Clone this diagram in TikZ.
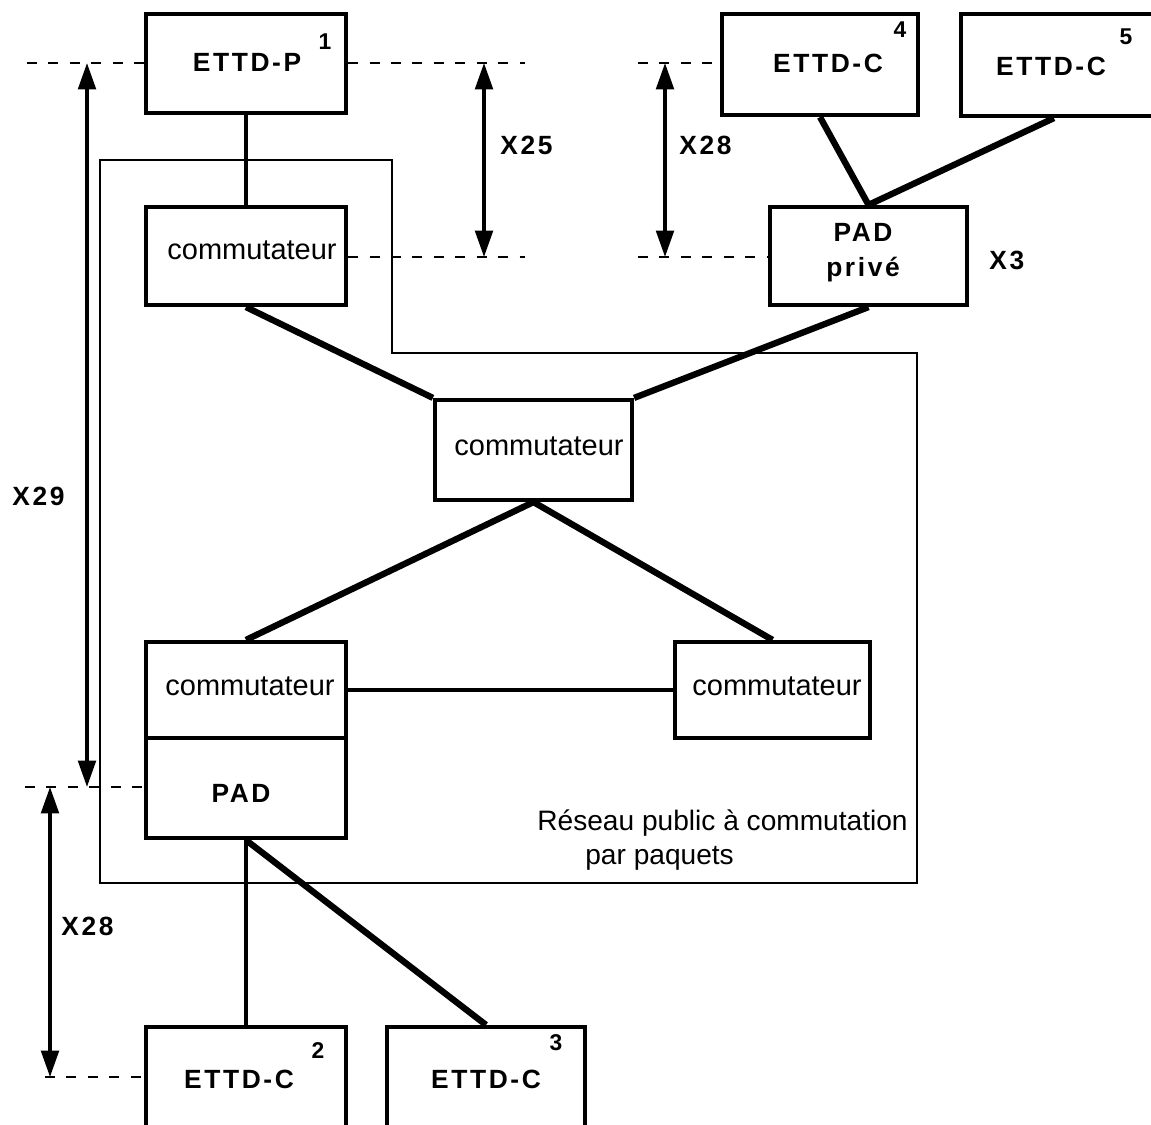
\documentclass[tikz,border=0pt]{standalone}
\usepackage{fontspec}
\setmainfont{Liberation Sans}
\newfontfamily\lblfont[LetterSpace=10]{Liberation Sans Bold}
\usetikzlibrary{arrows.meta,calc}
\begin{document}
\begin{tikzpicture}[x=0.02cm,y=-0.02cm,
  box/.style={draw, line width=2.4pt, rectangle, inner sep=0pt},
  thicklink/.style={line width=3.6pt},
  medlink/.style={line width=2.3pt},
  netline/.style={line width=1.1pt},
  dimline/.style={dashed, line width=1.3pt, dash pattern=on 5.7pt off 6.5pt},
  dimarrow/.style={line width=2pt, {Triangle[length=15pt,width=10pt]}-{Triangle[length=15pt,width=10pt]}},
  lbl/.style={font=\lblfont\fontsize{15}{18}\selectfont, inner sep=0pt, anchor=base},
  sup/.style={font=\lblfont\fontsize{13}{15}\selectfont, inner sep=0pt, anchor=base},
  cmt/.style={font=\fontsize{16.5}{20}\selectfont, inner sep=0pt, anchor=base},
  note/.style={font=\fontsize{16}{19}\selectfont, inner sep=0pt, anchor=base west}]
\useasboundingbox (0,0) rectangle (1151,1124);
\clip (0,0) rectangle (1151,1124);

% network boundary
\draw[netline] (100,160) -- (392,160) -- (392,353) -- (917,353) -- (917,883) -- (100,883) -- cycle;

% boxes
\node[box, minimum width=4cm, minimum height=1.98cm] (p1) at (246,63.5) {};
\node[box, minimum width=4cm, minimum height=1.96cm] (c1) at (246,256) {};
\node[box, minimum width=3.92cm, minimum height=2.02cm] (c4) at (820,64.5) {};
\node[box, minimum width=4.2cm, minimum height=2.04cm] (c5) at (1066,65) {};
\node[box, minimum width=3.94cm, minimum height=1.96cm] (pp) at (868.5,256) {};
\node[box, minimum width=3.94cm, minimum height=2cm] (cc) at (533.5,450) {};
\node[box, minimum width=4cm, minimum height=1.92cm] (cl) at (246,690) {};
\node[box, minimum width=4cm, minimum height=2cm] (pad) at (246,788) {};
\node[box, minimum width=3.9cm, minimum height=1.92cm] (cr) at (772.5,690) {};
\node[box, minimum width=4cm, minimum height=2.4cm] (e2) at (246,1087) {};
\node[box, minimum width=3.96cm, minimum height=2.4cm] (e3) at (486,1087) {};

% texts
\node[lbl] (tp1) at (247,72) {ETTD-P};
\node[sup] (sp1) at (325,50) {1};
\node[cmt] (tc1) at (252,260) {commutateur};
\node[lbl] (tc4) at (828,73) {ETTD-C};
\node[sup] (s4) at (900,38) {4};
\node[lbl] (tc5) at (1051,76) {ETTD-C};
\node[sup] (s5) at (1126,45) {5};
\node[lbl] (tpp1) at (863,242) {PAD};
\node[lbl] (tpp2) at (863,277) {privé};
\node[lbl, anchor=base west] (x3) at (989,270) {X3};
\node[lbl, anchor=base west] (x25) at (500,155) {X25};
\node[lbl, anchor=base west] (x28a) at (679,155) {X28};
\node[lbl, anchor=base west] (x29) at (12,505) {X29};
\node[lbl, anchor=base west] (x28b) at (61,935) {X28};
\node[cmt] (tcc) at (539,455) {commutateur};
\node[cmt] (tcl) at (250,695) {commutateur};
\node[lbl] (tpad) at (241,802) {PAD};
\node[cmt] (tcr) at (777,695) {commutateur};
\node[lbl] (te2) at (239,1088) {ETTD-C};
\node[sup] (s2) at (318,1058) {2};
\node[lbl] (te3) at (486,1088) {ETTD-C};
\node[sup] (s3) at (556,1050) {3};
\node[note] (n1) at (537,830) {Réseau public à commutation};
\node[note] (n2) at (585,864) {par paquets};

% dashed reference lines
\coordinate (dl1) at (27,63);
\coordinate (dr1) at (525,63);
\coordinate (dr2) at (525,257);
\coordinate (dl3) at (638,63);
\coordinate (dl4) at (638,257);
\coordinate (dl5) at (25,787);
\coordinate (dl6) at (45,1077);
\draw[dimline] (dl1) -- (dl1 -| p1.west);
\draw[dimline] (dr1 -| p1.east) -- (dr1);
\draw[dimline] (dr2 -| c1.east) -- (dr2);
\draw[dimline] (dl3) -- (dl3 -| c4.west);
\draw[dimline] (dl4) -- (dl4 -| pp.west);
\draw[dimline] (dl5) -- (dl5 -| pad.west);
\draw[dimline] (dl6) -- (dl6 -| e2.west);

% dimension arrows
\coordinate (a29t) at (87,63);
\coordinate (a29b) at (87,787);
\coordinate (a25t) at (484,63);
\coordinate (a25b) at (484,257);
\coordinate (a28t) at (665,63);
\coordinate (a28b) at (665,257);
\coordinate (a28c) at (50,787);
\coordinate (a28d) at (50,1077);
\draw[dimarrow] (a29t) -- (a29b);
\draw[dimarrow] (a25t) -- (a25b);
\draw[dimarrow] (a28t) -- (a28b);
\draw[dimarrow] (a28c) -- (a28d);

% connectors
\draw[medlink] (p1.south) -- (c1.north);
\draw[thicklink] (c1.south) -- (cc.north west);
\draw[thicklink] (pp.south) -- (cc.north east);
\draw[thicklink] (c4.south) -- (pp.north);
\draw[thicklink] ($(c5.south west)+(95,0)$) -- (pp.north);
\draw[thicklink] (cc.south) -- (cl.north);
\draw[thicklink] (cc.south) -- (cr.north);
\draw[medlink] (cl.east) -- (cr.west);
\draw[medlink] (pad.south) -- (e2.north);
\draw[thicklink] (pad.south) -- (e3.north);
\end{tikzpicture}
\end{document}
